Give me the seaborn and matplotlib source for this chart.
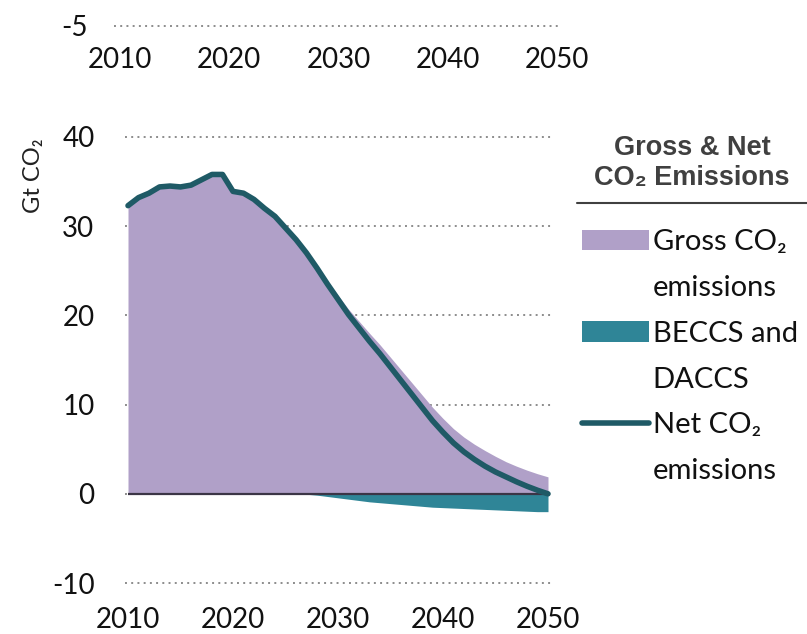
import numpy as np
import pandas as pd
import matplotlib
matplotlib.use("Agg")
import matplotlib.pyplot as plt
import seaborn as sns
from matplotlib.patches import Patch
from matplotlib.lines import Line2D

# data (Gt CO2)
years = list(range(2010, 2051))
net_co2 = [32.3, 33.2, 33.7, 34.4, 34.5, 34.4, 34.6, 35.2, 35.8, 35.8,
           33.9, 33.7, 33.0, 32.0, 31.1, 29.8, 28.5, 27.0, 25.3, 23.5,
           21.8, 20.1, 18.6, 17.1, 15.7, 14.2, 12.7, 11.2, 9.7, 8.2,
           6.9, 5.7, 4.7, 3.85, 3.1, 2.45, 1.9, 1.35, 0.85, 0.4, 0.0]
removals = [0, 0, 0, 0, 0, 0, 0, 0, 0, 0,
            0, 0, 0, 0, 0, 0, 0, -0.05, -0.15, -0.3,
            -0.45, -0.6, -0.75, -0.9, -1.0, -1.1, -1.2, -1.3, -1.4, -1.5,
            -1.55, -1.6, -1.65, -1.7, -1.75, -1.8, -1.85, -1.9, -1.95, -2.0, -2.0]
gross_co2 = [32.3, 33.2, 33.7, 34.4, 34.5, 34.4, 34.6, 35.2, 35.8, 35.8,
             33.9, 33.7, 33.0, 32.0, 31.1, 29.8, 28.5, 27.05, 25.45, 23.8,
             22.25, 20.7, 19.35, 18.0, 16.7, 15.3, 13.9, 12.5, 11.1, 9.7,
             8.45, 7.3, 6.35, 5.55, 4.85, 4.2, 3.6, 3.1, 2.65, 2.25, 1.9]

y_ticks = [-10, 0, 10, 20, 30, 40]
x_ticks = [2010, 2020, 2030, 2040, 2050]
legend_lines = ["Gross CO\u2082", "emissions", "BECCS and", "DACCS", "Net CO\u2082", "emissions"]

df = pd.DataFrame({"year": years, "net": net_co2, "gross": gross_co2, "removals": removals})

c_gross = "#b0a0c8"
c_removal = "#2f8597"
c_net = "#1f5a66"
c_grid = "#8c8c8c"

sns.set_theme(style="white")
plt.rcParams["font.family"] = ["Lato", "DejaVu Sans"]
plt.rcParams["axes.unicode_minus"] = False

W, H = 807, 634
fig = plt.figure(figsize=(W / 100, H / 100), dpi=100)

def rect(x0, y0, x1, y1):
    # pixel box -> figure fraction
    return [x0 / W, 1 - y1 / H, (x1 - x0) / W, (y1 - y0) / H]

# main chart
ax = fig.add_axes(rect(125, 134.3, 551, 585.7))
ax.fill_between(df["year"], 0, df["gross"], color=c_gross, lw=0, zorder=2)
ax.fill_between(df["year"], 0, df["removals"], color=c_removal, lw=0, zorder=2)
ax.hlines(0, years[0], years[-1], color="#3b3546", lw=1.6, zorder=3)
sns.lineplot(data=df, x="year", y="net", ax=ax, color=c_net, lw=4, zorder=4,
             solid_capstyle="round")
ax.set_xlim(2009.714, 2050.286)
ax.set_ylim(-10.3, 40.3)
ax.set_yticks(y_ticks)
ax.set_xticks(x_ticks)
ax.yaxis.grid(True, ls=(0, (1, 2.2)), color=c_grid, lw=1.4, zorder=1)
ax.set_axisbelow(True)
for s in ax.spines.values():
    s.set_visible(False)
ax.tick_params(axis="both", length=0, labelsize=20, colors="#111111")
ax.tick_params(axis="y", pad=22)
ax.tick_params(axis="x", pad=15)
ax.set_xlabel("")
ax.set_ylabel("Gt CO\u2082", fontsize=17, color="#222222")
ax.yaxis.set_label_coords((44 - 125) / 426, (585.7 - 176) / 451.4)

# strip left over from the chart above
ax_top = fig.add_axes(rect(114, 20, 558, 32))
ax_top.set_xlim(2009.45, 2050.09)
ax_top.set_ylim(-5.5, -4.5)
ax_top.set_yticks([-5])
ax_top.set_xticks(x_ticks)
ax_top.yaxis.grid(True, ls=(0, (1, 2.2)), color=c_grid, lw=1.4)
for s in ax_top.spines.values():
    s.set_visible(False)
ax_top.set_facecolor("none")
ax_top.tick_params(axis="both", length=0, labelsize=20, colors="#111111")
ax_top.tick_params(axis="y", pad=19)
ax_top.tick_params(axis="x", pad=11)

# legend block
fig.text(692 / W, 1 - 163 / H, "Gross & Net\nCO\u2082 Emissions", ha="center", va="center",
         fontsize=19.5, fontweight="bold", color="#404040",
         family=["Liberation Sans", "DejaVu Sans"], linespacing=1.2)
fig.add_artist(Line2D([577 / W, 1.0], [1 - 203 / H, 1 - 203 / H], color="#404040", lw=1.5))

blank = Patch(facecolor="none", edgecolor="none")
handles = [Patch(facecolor=c_gross, edgecolor="none"), blank,
           Patch(facecolor=c_removal, edgecolor="none"), blank,
           Line2D([0], [0], color=c_net, lw=4), blank]
leg = fig.legend(handles, legend_lines, loc="upper left", bbox_to_anchor=(582 / W, 1 - 229 / H),
                 frameon=False, fontsize=21, handlelength=2.3, handleheight=0.7,
                 handletextpad=0.12, labelspacing=0.68, borderaxespad=0, borderpad=0)
for t in leg.get_texts():
    t.set_color("#111111")

fig.savefig("out.png", dpi=100)
